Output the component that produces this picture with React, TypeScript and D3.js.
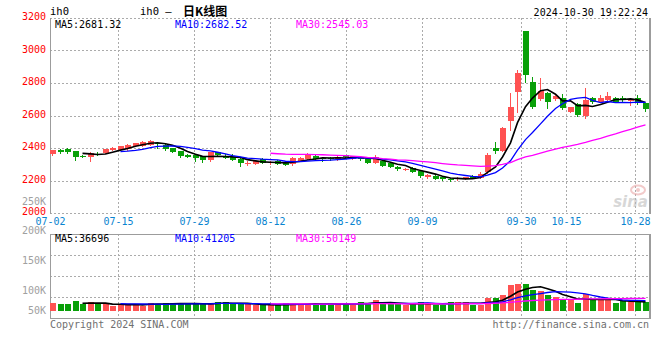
import React from 'react';
import * as d3 from 'd3';

// daily K of ih0, 07-02 .. 10-30
const dates = [
  '07-02', '07-03', '07-04', '07-05', '07-08', '07-09', '07-10', '07-11', '07-12', '07-15',
  '07-16', '07-17', '07-18', '07-19', '07-22', '07-23', '07-24', '07-25', '07-26', '07-29',
  '07-30', '07-31', '08-01', '08-02', '08-05', '08-06', '08-07', '08-08', '08-09', '08-12',
  '08-13', '08-14', '08-15', '08-16', '08-19', '08-20', '08-21', '08-22', '08-23', '08-26',
  '08-27', '08-28', '08-29', '08-30', '09-02', '09-03', '09-04', '09-05', '09-06', '09-09',
  '09-10', '09-11', '09-12', '09-13', '09-18', '09-19', '09-20', '09-23', '09-24', '09-25',
  '09-26', '09-27', '09-30', '10-08', '10-09', '10-10', '10-11', '10-14', '10-15', '10-16',
  '10-17', '10-18', '10-21', '10-22', '10-23', '10-24', '10-25', '10-28', '10-29', '10-30',
];

const opens = [
  2363, 2388, 2392, 2382, 2352, 2343, 2366, 2371, 2390, 2390,
  2392, 2412, 2414, 2418, 2431, 2418, 2398, 2382, 2359, 2357,
  2348, 2326, 2373, 2353, 2347, 2332, 2306, 2304, 2330, 2306,
  2322, 2312, 2300, 2322, 2332, 2353, 2340, 2336, 2330, 2357,
  2332, 2347, 2330, 2310, 2320, 2306, 2285, 2268, 2279, 2260,
  2224, 2230, 2223, 2211, 2209, 2211, 2228, 2217, 2254, 2402,
  2384, 2568, 2746, 3120, 2804, 2702, 2740, 2703, 2710, 2623,
  2671, 2597, 2708, 2685, 2695, 2708, 2706, 2689, 2706, 2675,
];
const highs = [
  2390, 2391, 2400, 2384, 2359, 2375, 2377, 2394, 2404, 2414,
  2422, 2433, 2445, 2450, 2437, 2422, 2400, 2384, 2361, 2359,
  2351, 2378, 2378, 2365, 2363, 2336, 2320, 2320, 2340, 2318,
  2326, 2314, 2346, 2344, 2371, 2355, 2342, 2342, 2350, 2360,
  2353, 2352, 2333, 2357, 2322, 2308, 2291, 2277, 2281, 2262,
  2240, 2232, 2226, 2213, 2221, 2222, 2231, 2250, 2367, 2437,
  2530, 2740, 2880, 3122, 2835, 2829, 2745, 2725, 2732, 2655,
  2675, 2767, 2712, 2725, 2747, 2712, 2720, 2705, 2726, 2678,
];
const lows = [
  2360, 2372, 2372, 2328, 2343, 2322, 2355, 2369, 2388, 2388,
  2390, 2410, 2412, 2416, 2402, 2390, 2375, 2345, 2345, 2320,
  2316, 2322, 2354, 2338, 2324, 2291, 2298, 2300, 2308, 2302,
  2299, 2295, 2297, 2320, 2330, 2330, 2322, 2326, 2328, 2344,
  2330, 2328, 2308, 2308, 2289, 2283, 2262, 2264, 2250, 2224,
  2215, 2207, 2205, 2199, 2203, 2209, 2213, 2215, 2244, 2371,
  2380, 2511, 2623, 2804, 2645, 2698, 2648, 2698, 2640, 2620,
  2600, 2586, 2680, 2682, 2692, 2683, 2692, 2665, 2672, 2630,
];
const closes = [
  2388, 2378, 2374, 2347, 2349, 2371, 2358, 2392, 2402, 2412,
  2420, 2429, 2439, 2445, 2427, 2392, 2378, 2351, 2347, 2338,
  2328, 2375, 2357, 2341, 2326, 2310, 2309, 2318, 2310, 2316,
  2302, 2297, 2336, 2340, 2357, 2332, 2330, 2333, 2347, 2347,
  2351, 2330, 2310, 2343, 2291, 2285, 2269, 2272, 2254, 2228,
  2234, 2209, 2207, 2201, 2215, 2219, 2215, 2240, 2359, 2384,
  2525, 2650, 2863, 2849, 2650, 2751, 2685, 2720, 2644, 2650,
  2603, 2695, 2685, 2708, 2720, 2685, 2695, 2702, 2678, 2642,
];
const volumes = [
  32000, 28000, 28000, 40000, 27000, 36000, 27000, 27000, 21000, 25000,
  28000, 28000, 21000, 32000, 28000, 32000, 32000, 27000, 28000, 32000,
  27000, 28000, 36000, 36000, 27000, 27000, 27000, 23000, 25000, 25000,
  23000, 32000, 28000, 28000, 28000, 27000, 28000, 28000, 32000, 28000,
  23000, 36000, 32000, 44000, 28000, 28000, 28000, 23000, 32000, 36000,
  32000, 23000, 23000, 36000, 36000, 36000, 23000, 23000, 52000, 52000,
  64000, 104000, 108000, 108000, 86000, 79000, 64000, 56000, 44000, 44000,
  32000, 67000, 44000, 44000, 44000, 34000, 38000, 35000, 40000, 36000,
];

const priceTicks = [3200, 3000, 2800, 2600, 2400, 2200, 2000];
const volumeTicks = [250000, 200000, 150000, 100000, 50000];
const volumeGrid = [200000, 150000, 100000];
const dateTicks = ['07-02', '07-15', '07-29', '08-12', '08-26', '09-09', '09-30', '10-15', '10-28'];

const maPeriods = [5, 10, 30];
const maColors = ['#000000', '#0000ff', '#ff00ff'];
const maLegendX = [55, 175, 296];
const priceMaText = ['MA5:2681.32', 'MA10:2682.52', 'MA30:2545.03'];
const volumeMaText = ['MA5:36696', 'MA10:41205', 'MA30:50149'];

const UP = '#ff5252';
const DOWN = '#08a008';
const GRID = '#ababab';
const BORDER = '#9c9c9c';
const MONO = "'DejaVu Sans Mono', monospace";

const W = 660;
const H = 360;
const plotLeft = 50;
const plotRight = 650;
const mainTop = 18;
const mainBottom = 213;
const volTop = 234;
const volBottom = 318;

const movingAverage = (values: number[], n: number) =>
  values.map((_, i) => (i < n - 1 ? null : d3.mean(values.slice(i - n + 1, i + 1)) as number));

const App = () => {
  const idx = d3.range(dates.length);
  const xBand = d3.scaleBand<number>().domain(idx).range([plotLeft, plotRight]);
  // sina puts the date grid on a slightly different step than the candles
  const xGrid = d3.scaleLinear().domain([0, dates.length - 1]).range([plotLeft, plotRight]);
  const yPrice = d3.scaleLinear().domain([2000, 3200]).range([mainBottom, mainTop]);
  const yVol = d3.scaleLinear().domain([0, 300000]).range([311, 236]);
  const yVolLabel = d3.scaleLinear().domain([100000, 250000]).range([290.6, 201]);

  const bodyW = 6;
  const cx = (i: number) => Math.round(xBand(i)!) + bodyW / 2 - 0.5;

  const priceLine = d3.line<number | null>()
    .defined(v => v != null)
    .x((_, i) => cx(i))
    .y(v => yPrice(v as number));
  const volLine = d3.line<number | null>()
    .defined(v => v != null)
    .x((_, i) => cx(i))
    .y(v => yVol(v as number));

  const gridXs = dateTicks.map(d => Math.round(xGrid(dates.indexOf(d))) + 0.5);

  return (
    <svg width={W} height={H} style={{ position: 'absolute', left: 0, top: 0, background: '#fff' }}>
      {/* header */}
      <text x={50} y={15} fontFamily={MONO} fontSize={10.5} fill="#000">ih0</text>
      <text x={140} y={15} fontFamily={MONO} fontSize={10.5} fill="#000">ih0 –</text>
      <text x={183} y={15.5} fontFamily="'Noto Sans CJK SC'" fontWeight="bold" fontSize={12} fill="#000">日K线图</text>
      <text x={648} y={16} textAnchor="end" fontFamily={MONO} fontSize={10} fill="#000">2024-10-30 19:22:24</text>

      {/* main panel grid */}
      <g shapeRendering="crispEdges">
        {priceTicks.slice(1, -1).map(t => (
          <line key={t} x1={plotLeft} x2={plotRight} y1={Math.round(yPrice(t)) + 0.5} y2={Math.round(yPrice(t)) + 0.5}
            stroke={GRID} strokeDasharray="2,2" />
        ))}
        <line x1={plotLeft} x2={plotRight} y1={mainTop + 0.5} y2={mainTop + 0.5} stroke={GRID} strokeDasharray="2,2" />
        <line x1={plotLeft} x2={plotRight} y1={mainBottom + 0.5} y2={mainBottom + 0.5} stroke={GRID} strokeDasharray="2,2" />
        {gridXs.slice(1).map((x, k) => (
          <g key={k}>
            <line x1={x} x2={x} y1={mainTop} y2={mainBottom} stroke={GRID} strokeDasharray="2,2" />
            <line x1={x} x2={x} y1={volTop} y2={volBottom} stroke={GRID} strokeDasharray="2,2" />
          </g>
        ))}
        <line x1={plotLeft + 0.5} x2={plotLeft + 0.5} y1={mainTop} y2={mainBottom + 1} stroke={BORDER} />
        <line x1={plotRight - 0.5} x2={plotRight - 0.5} y1={mainTop} y2={mainBottom + 1} stroke={BORDER} strokeWidth={2} />

        {/* volume panel frame */}
        {volumeGrid.map(t => (
          <line key={t} x1={plotLeft} x2={plotRight}
            y1={Math.round(d3.scaleLinear().domain([250000, 50000]).range([volTop, volBottom])(t)) + 0.5}
            y2={Math.round(d3.scaleLinear().domain([250000, 50000]).range([volTop, volBottom])(t)) + 0.5}
            stroke={GRID} strokeDasharray="2,2" />
        ))}
        <rect x={plotLeft + 0.5} y={volTop + 0.5} width={plotRight - plotLeft - 1} height={volBottom - volTop}
          fill="none" stroke={BORDER} />
        <line x1={plotRight - 0.5} x2={plotRight - 0.5} y1={volTop} y2={volBottom + 1} stroke={BORDER} strokeWidth={2} />
      </g>

      {/* sina watermark */}
      <g opacity={0.55}>
        <ellipse cx={638} cy={190} rx={7} ry={4.5} fill="none" stroke="#e8a0a0" strokeWidth={2} />
        <circle cx={638} cy={190} r={2} fill="#e8a0a0" />
        <text x={648} y={207} textAnchor="end" fontFamily="'DejaVu Sans'" fontStyle="italic" fontWeight="bold"
          fontSize={15} fill="#b8b8b8">sina</text>
      </g>

      {/* candles */}
      <g shapeRendering="crispEdges">
        {idx.map(i => {
          const up = closes[i] >= opens[i];
          const color = up ? UP : DOWN;
          const x0 = Math.round(xBand(i)!);
          const yTop = Math.round(yPrice(Math.max(opens[i], closes[i])));
          const yBot = Math.round(yPrice(Math.min(opens[i], closes[i])));
          return (
            <g key={i}>
              <line x1={cx(i)} x2={cx(i)} y1={Math.round(yPrice(highs[i]))} y2={Math.round(yPrice(lows[i])) + 1}
                stroke={color} />
              <rect x={x0} y={yTop} width={bodyW} height={Math.max(1, yBot - yTop)} fill={color} />
            </g>
          );
        })}
      </g>

      {/* price moving averages */}
      {maPeriods.map((n, k) => (
        <path key={n} d={priceLine(movingAverage(closes, n)) || ''} fill="none" stroke={maColors[k]}
          strokeWidth={k === 0 ? 1.6 : 1.3} />
      ))}

      {/* volume bars */}
      <g shapeRendering="crispEdges">
        {idx.map(i => {
          const yTop = Math.round(yVol(volumes[i]));
          return (
            <rect key={i} x={Math.round(xBand(i)!)} y={yTop} width={bodyW} height={Math.round(yVol(0)) - yTop}
              fill={closes[i] >= opens[i] ? UP : DOWN} />
          );
        })}
      </g>
      {maPeriods.map((n, k) => (
        <path key={n} d={volLine(movingAverage(volumes, n)) || ''} fill="none" stroke={maColors[k]}
          strokeWidth={k === 0 ? 1.6 : 1.3} />
      ))}

      {/* axis labels */}
      {priceTicks.map(t => (
        <text key={t} x={46} y={yPrice(t) + 2} textAnchor="end" fontFamily={MONO} fontSize={10} fill="#ff0000">{t}</text>
      ))}
      {volumeTicks.map(t => (
        <text key={t} x={46} y={Math.min(yVolLabel(t), 310.7) + 3.6} textAnchor="end" fontFamily={MONO} fontSize={10}
          fill="#a0a0a0">{t / 1000 + 'K'}</text>
      ))}
      {dateTicks.map((d, k) => (
        <text key={d} x={gridXs[k]} y={224.5} textAnchor="middle" fontFamily={MONO} fontSize={10} fill="#0a84d0">{d}</text>
      ))}

      {/* legends */}
      {priceMaText.map((s, k) => (
        <text key={s} x={maLegendX[k]} y={27.5} fontFamily={MONO} fontSize={10} fill={maColors[k]}>{s}</text>
      ))}
      {volumeMaText.map((s, k) => (
        <text key={s} x={maLegendX[k]} y={242} fontFamily={MONO} fontSize={10} fill={maColors[k]}>{s}</text>
      ))}

      <text x={50} y={327.5} fontFamily={MONO} fontSize={10} fill="#707070">Copyright 2024 SINA.COM</text>
      <text x={649} y={327.5} textAnchor="end" fontFamily={MONO} fontSize={10} fill="#707070">http://finance.sina.com.cn</text>
    </svg>
  );
};

export default App;
